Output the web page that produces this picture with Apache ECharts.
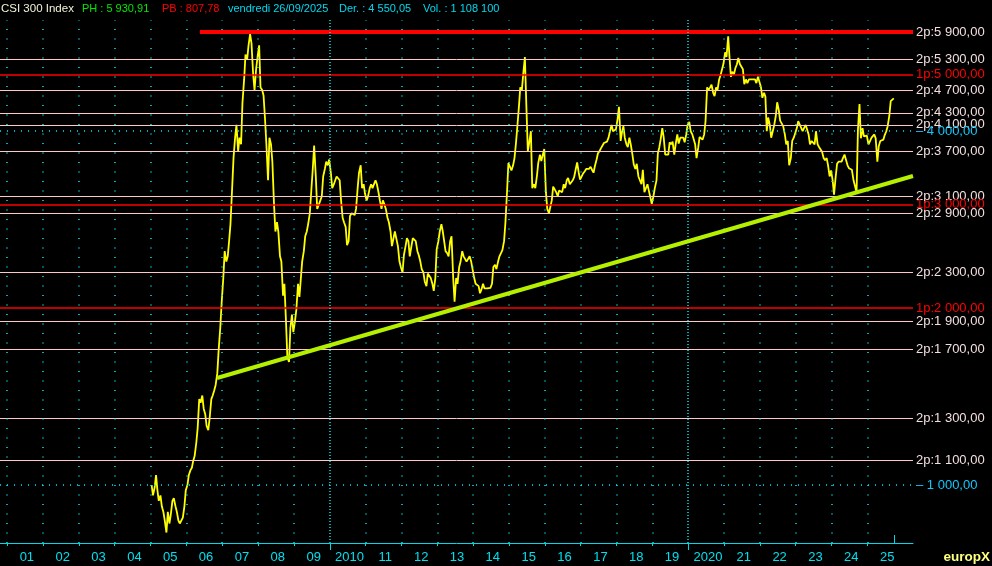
<!DOCTYPE html>
<html><head><meta charset="utf-8">
<script src="https://cdn.jsdelivr.net/npm/echarts@6/dist/echarts.min.js"></script>
<style>html,body{margin:0;padding:0;background:#000}#c{width:992px;height:566px}</style>
</head><body><div id="c"></div>
<script>
// ---- semi-monthly values (mid-month, end-month) ----
const p2005 = [1000,960,990,1040,980,940,960,920,900,870,830,900,860,890,940,950,920,900,870,860,860,880,920,980];
const p2006 = [1000,1040,1060,1070,1100,1120,1180,1250,1400,1380,1420,1350,1320,1260,1240,1300,1400,1420,1450,1480,1550,1700,1850,2040];
const p2007 = [2250,2500,2400,2450,2600,2780,3200,3600,3900,4100,3700,3900,3800,4470,4900,5400,5300,5600,5850,5650,5000,4700,5100,5340];
const p2008 = [5600,4750,4700,4600,4200,3800,3300,3900,3800,3550,3000,2700,2800,2700,2450,2400,2100,2200,1900,1650,1620,1850,1950,1820];
const p2009 = [1900,1990,2200,2090,2100,2400,2500,2650,2700,2780,2900,3150,3450,3780,3350,2950,3000,2980,3100,3350,3450,3550,3500,3580];
const p2010 = [3400,3200,3250,3300,3350,3350,3300,3050,2850,2800,2750,2560,2600,2870,2900,2900,2880,2950,3200,3400,3500,3200,3250,3130];
const p2011 = [3050,3100,3200,3250,3200,3200,3300,3250,3150,3050,2950,3050,3000,2950,2850,2800,2700,2550,2550,2700,2700,2550,2400,2350];
const p2012 = [2300,2460,2550,2630,2600,2450,2550,2630,2650,2600,2500,2460,2400,2330,2300,2220,2180,2290,2280,2250,2200,2140,2250,2520];
const p2013 = [2600,2700,2780,2700,2600,2500,2480,2450,2600,2650,2250,2050,2250,2200,2350,2400,2500,2450,2450,2400,2400,2450,2400,2330];
const p2014 = [2250,2200,2200,2180,2120,2150,2200,2160,2150,2160,2150,2165,2200,2350,2370,2330,2400,2450,2450,2510,2600,2800,3150,3530];
const p2015 = [3550,3430,3500,3600,3800,4050,4400,4750,4700,5000,5350,4470,3700,3820,4000,3200,3250,3200,3350,3530,3650,3560,3650,3730];
const p2016 = [3150,2950,2900,2880,3050,3220,3200,3150,3100,3170,3150,3150,3250,3200,3300,3330,3250,3250,3300,3340,3450,3540,3400,3310];
const p2017 = [3320,3390,3420,3450,3450,3450,3480,3440,3400,3490,3580,3670,3700,3740,3750,3820,3850,3840,3900,4000,4100,4000,4000,4030];
const p2018 = [4200,4400,3850,3990,4080,3900,3800,3760,3900,3800,3650,3510,3450,3520,3350,3330,3250,3440,3150,3150,3250,3170,3150,3010];
const p2019 = [3100,3200,3300,3670,3750,3870,4050,3910,3650,3630,3650,3830,3800,3840,3650,3800,3950,3810,3900,3890,3900,3830,3950,4100];
const p2020 = [4150,4000,3950,3940,3800,3600,3750,3910,3900,3870,3950,4160,4750,4700,4750,4800,4650,4590,4750,4700,4900,4980,5000,5210];
const p2021 = [5450,5350,5800,5330,4950,5050,5000,5120,5200,5330,5200,5220,5100,4810,4900,4830,4900,4870,4900,4910,4900,4830,4950,4940];
const p2022 = [4750,4560,4650,4580,4000,4220,4100,3900,3900,4090,4250,4480,4350,4170,4150,4080,3950,3800,3850,3500,3600,3850,3900,3870];
const p2023 = [4050,4160,4100,4080,4000,4050,4100,4030,3950,3800,3850,3840,3800,4000,3800,3760,3750,3690,3600,3570,3600,3500,3350,3430];
const p2024 = [3300,3120,3350,3520,3550,3540,3550,3600,3650,3580,3500,3460,3450,3440,3300,3320,3150,4020,4450,3890,4050,3920,3950,3930];
const p2025 = [3800,3820,3900,3890,3950,3890,3550,3770,3850,3840,3870,3940,4000,4080,4250,4500,4480,4550];
const yearlyBlocks = [[2005,p2005],[2006,p2006],[2007,p2007],[2008,p2008],[2009,p2009],[2010,p2010],[2011,p2011],[2012,p2012],[2013,p2013],[2014,p2014],[2015,p2015],[2016,p2016],[2017,p2017],[2018,p2018],[2019,p2019],[2020,p2020],[2021,p2021],[2022,p2022],[2023,p2023],[2024,p2024],[2025,p2025]];
const halfMonthDays = [12, 26];

// ---- horizontal levels ----
const levelValues = [5900,5300,5000,4700,4300,4100,4000,3700,3100,3000,2900,2300,2000,1900,1700,1300,1100,1000];
const levelKinds  = ['top','2p','1p','2p','2p','2p','grid','2p','2p','1p','2p','2p','1p','2p','2p','2p','2p','grid'];
const resistanceStart = '2006-05-18';

// ---- trend line ----
const trendDates = ['2006-11-09','2026-04-10'];
const trendValues = [1521, 3356];

// ---- axis ----
const axisRange = ['2000-10-20','2026-04-10'];
const yRange = [796.7, 6185];
const yearList = [2001,2002,2003,2004,2005,2006,2007,2008,2009,2010,2011,2012,2013,2014,2015,2016,2017,2018,2019,2020,2021,2022,2023,2024,2025];
const yearLabels = ['01','02','03','04','05','06','07','08','09','2010','11','12','13','14','15','16','17','18','19','2020','21','22','23','24','25'];
const decadeYears = [2010, 2020];
const lastDate = '2025-09-26';

// ---- header ----
const headerTexts = ['CSI 300 Index','PH : 5 930,91','PB : 807,78','vendredi 26/09/2025','Der. : 4 550,05','Vol. : 1 108 100'];
const brandText = 'europX';

// ================= build =================
const FONT = '"Liberation Sans", Arial, sans-serif';
// convert a calendar date into a fractional year (x scale)
const decY = (y, m, d) => {
  const a = Date.UTC(y, 0, 1), b = Date.UTC(y + 1, 0, 1);
  return y + (Date.UTC(y, m, d) - a) / (b - a);
};
const decS = s => { const [y,m,d] = s.split('-').map(Number); return decY(y, m-1, d); };

const priceData = [];
yearlyBlocks.forEach(([yr, vals]) => {
  vals.forEach((v, i) => priceData.push([decY(yr, Math.floor(i/2), halfMonthDays[i%2]), v]));
});

const fmt = v => Math.floor(v/1000) + ' ' + String(v%1000).padStart(3,'0') + ',00';
const kindStyle = {
  top:  {color:'#ff0000', width:4, type:'solid', label:'#f2dede', prefix:'2p:'},
  '2p': {color:'#ffc8c8', width:1, type:'solid', label:'#f2dede', prefix:'2p:'},
  '1p': {color:'#ff0000', width:1.5, type:'solid', label:'#ff0000', prefix:'1p:'},
  grid: {color:'#00e0ff', width:1.5, type:[1,6], label:'#10c8ff', prefix:'– '}
};
const labelBase = {show:true, position:'end', distance:3, fontSize:13, fontFamily:FONT};
const markData = [];
levelValues.forEach((v, i) => {
  const k = kindStyle[levelKinds[i]];
  const label = Object.assign({}, labelBase, {formatter: k.prefix + fmt(v), color: k.label});
  const ls = {color:k.color, width:k.width, type:k.type, opacity:1};
  if (levelKinds[i] === 'top') {
    markData.push([{coord:[decS(resistanceStart), v], lineStyle:ls, label}, {coord:[decS(axisRange[1]), v]}]);
  } else {
    markData.push({yAxis:v, lineStyle:ls, label});
  }
});
yearList.forEach(y => {
  const dense = decadeYears.includes(y);
  markData.push({xAxis: y, label:{show:false},
    lineStyle:{color:'#00e8f0', width:1.5, type: dense ? [1,2] : [1,8.5], opacity:1}});
});

const baseX = {type:'value', min:decS(axisRange[0]), max:decS(axisRange[1]), position:'bottom', splitLine:{show:false}, scale:true};
const chart = echarts.init(document.getElementById('c'), null, {renderer:'canvas'});
chart.setOption({
  backgroundColor:'#000',
  animation:false,
  grid:{left:0, right:79, top:20, bottom:23, containLabel:false},
  xAxis:[
    Object.assign({}, baseX, {
      axisLine:{show:true, lineStyle:{color:'#00d8e8', width:1}},
      axisTick:{show:true, customValues: yearList, length:3, lineStyle:{color:'#00d8e8'}},
      axisLabel:{show:true, customValues: yearList.map(y => y + 0.55), margin:8, color:'#00e0f0', fontSize:13, fontFamily:FONT,
        formatter: v => yearLabels[yearList.indexOf(Math.floor(v))] || ''}
    }),
    Object.assign({}, baseX, {
      axisLine:{show:false}, axisLabel:{show:false},
      axisTick:{show:true, customValues: decadeYears, length:7, lineStyle:{color:'#00d8e8'}}
    }),
    Object.assign({}, baseX, {
      axisLine:{show:false}, axisLabel:{show:false},
      axisTick:{show:true, inside:true, customValues:[decS(lastDate)], length:8, lineStyle:{color:'#00d8e8'}}
    })
  ],
  yAxis:{type:'log', logBase:10, min:yRange[0], max:yRange[1], show:false},
  series:[
    {type:'line', data:[], xAxisIndex:0, z:1, silent:true,
      markLine:{silent:true, symbol:['none','none'], animation:false, emphasis:{disabled:true},
        label:labelBase, data:markData}},
    {type:'line', data:priceData, xAxisIndex:0, z:3, symbol:'none', silent:true,
      lineStyle:{color:'#ffff00', width:1.8}},
    {type:'line', data:trendDates.map((d,i)=>[decS(d), trendValues[i]]), xAxisIndex:0, z:5, symbol:'none', silent:true,
      lineStyle:{color:'#b4f000', width:4}}
  ],
  graphic:[
    {type:'text', x:1, y:9, style:{text:headerTexts[0], fill:'#f4f4d8', font:'11.5px '+FONT, verticalAlign:'middle'}},
    {type:'text', x:82, y:9, style:{text:headerTexts[1], fill:'#00e800', font:'11px '+FONT, verticalAlign:'middle'}},
    {type:'text', x:162, y:9, style:{text:headerTexts[2], fill:'#ff0000', font:'11px '+FONT, verticalAlign:'middle'}},
    {type:'text', x:228, y:9, style:{text:headerTexts[3], fill:'#00d8f0', font:'11px '+FONT, verticalAlign:'middle'}},
    {type:'text', x:339, y:9, style:{text:headerTexts[4], fill:'#00d8f0', font:'11px '+FONT, verticalAlign:'middle'}},
    {type:'text', x:423, y:9, style:{text:headerTexts[5], fill:'#00d8f0', font:'11px '+FONT, verticalAlign:'middle'}},
    {type:'text', x:990, y:557, style:{text:brandText, fill:'#ffff80', font:'bold 13.5px '+FONT, align:'right', verticalAlign:'middle'}}
  ]
});
</script></body></html>
